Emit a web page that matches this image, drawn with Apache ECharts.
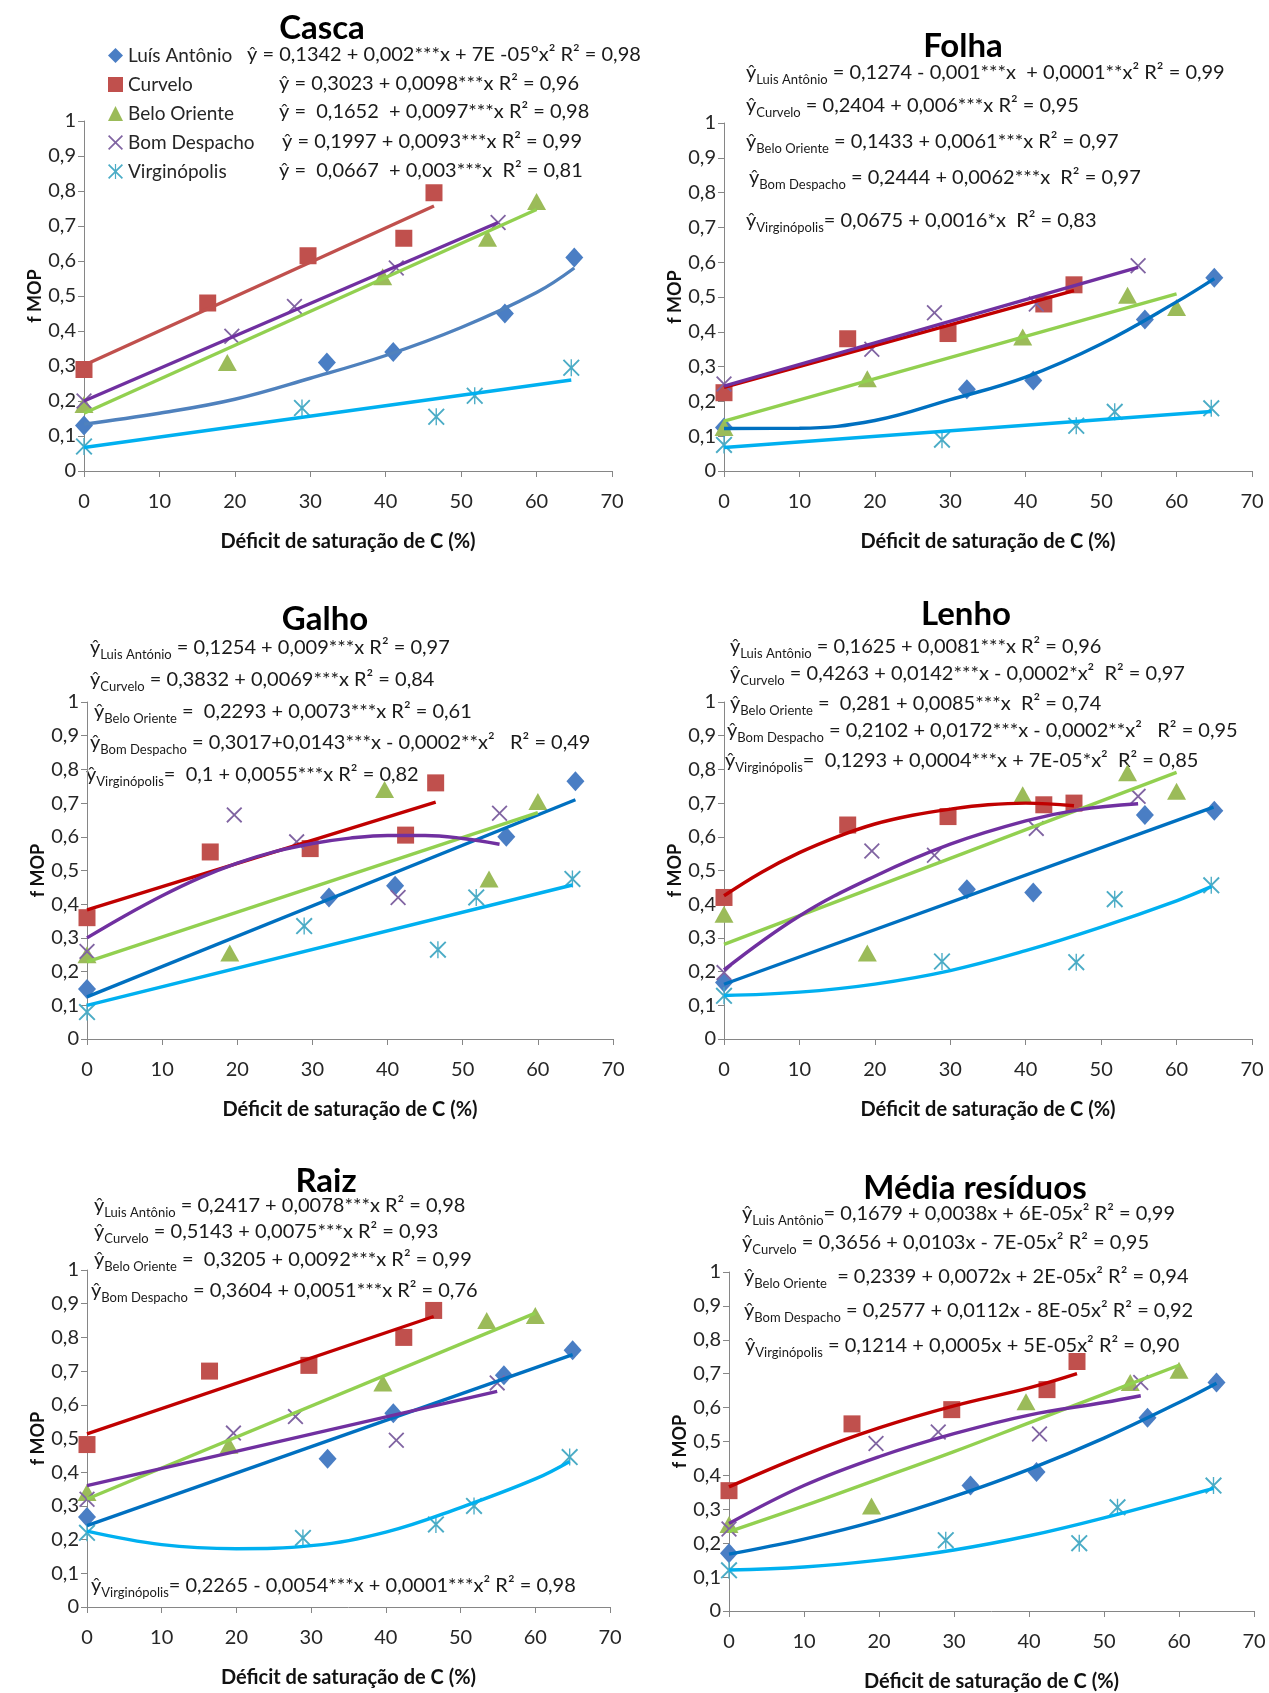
<!DOCTYPE html>
<html>
<head>
<meta charset="utf-8">
<script src="https://cdn.jsdelivr.net/npm/echarts/dist/echarts.min.js"></script>
<style>
  html, body { margin: 0; padding: 0; background: #ffffff; }
  #chart { width: 1269px; height: 1693px; }
</style>
</head>
<body>
<div id="chart"></div>
<script>
// ---------------------------------------------------------------------------
// Sites and their carbon saturation deficit (x, %)
// ---------------------------------------------------------------------------
const sites = ['Luís Antônio', 'Curvelo', 'Belo Oriente', 'Bom Despacho', 'Virginópolis'];
const xLuis     = [0, 32.2, 41, 55.8, 65];
const xCurvelo  = [0, 16.4, 29.7, 42.4, 46.4];
const xBelo     = [0, 19, 39.6, 53.5, 60];
const xBom      = [0, 19.6, 27.9, 41.4, 54.9];
const xVirg     = [0, 28.9, 46.7, 51.8, 64.6];

const xTicks = [0, 10, 20, 30, 40, 50, 60, 70];
const yTicks = [0, 0.1, 0.2, 0.3, 0.4, 0.5, 0.6, 0.7, 0.8, 0.9, 1];

// ---------------------------------------------------------------------------
// f MOP observed per residue compartment
// ---------------------------------------------------------------------------
// Casca
const cascaLuis    = [0.13, 0.31, 0.34, 0.45, 0.61];
const cascaCurvelo = [0.29, 0.48, 0.615, 0.665, 0.795];
const cascaBelo    = [0.19, 0.31, 0.555, 0.665, 0.77];
const cascaBom     = [0.20, 0.385, 0.47, 0.58, 0.71];
const cascaVirg    = [0.07, 0.18, 0.155, 0.215, 0.295];
// Folha
const folhaLuis    = [0.125, 0.235, 0.26, 0.435, 0.555];
const folhaCurvelo = [0.225, 0.38, 0.395, 0.48, 0.535];
const folhaBelo    = [0.125, 0.265, 0.385, 0.505, 0.47];
const folhaBom     = [0.25, 0.35, 0.455, 0.48, 0.59];
const folhaVirg    = [0.075, 0.09, 0.13, 0.17, 0.18];
// Galho
const galhoLuis    = [0.148, 0.42, 0.455, 0.60, 0.765];
const galhoCurvelo = [0.36, 0.555, 0.565, 0.605, 0.76];
const galhoBelo    = [0.25, 0.255, 0.74, 0.475, 0.705];
const galhoBom     = [0.26, 0.665, 0.585, 0.42, 0.67];
const galhoVirg    = [0.08, 0.335, 0.265, 0.42, 0.475];
// Lenho
const lenhoLuis    = [0.168, 0.444, 0.435, 0.665, 0.677];
const lenhoCurvelo = [0.42, 0.635, 0.66, 0.695, 0.70];
const lenhoBelo    = [0.37, 0.255, 0.725, 0.79, 0.735];
const lenhoBom     = [0.197, 0.558, 0.545, 0.625, 0.72];
const lenhoVirg    = [0.128, 0.23, 0.228, 0.415, 0.456];
// Raiz
const raizLuis     = [0.267, 0.44, 0.575, 0.688, 0.762];
const raizCurvelo  = [0.482, 0.70, 0.717, 0.80, 0.88];
const raizBelo     = [0.34, 0.48, 0.665, 0.85, 0.865];
const raizBom      = [0.32, 0.516, 0.565, 0.495, 0.665];
const raizVirg     = [0.22, 0.205, 0.245, 0.30, 0.445];
// Média resíduos
const mediaLuis    = [0.17, 0.37, 0.41, 0.57, 0.674];
const mediaCurvelo = [0.355, 0.552, 0.594, 0.653, 0.736];
const mediaBelo    = [0.255, 0.31, 0.617, 0.674, 0.71];
const mediaBom     = [0.242, 0.494, 0.528, 0.522, 0.674];
const mediaVirg    = [0.12, 0.209, 0.20, 0.306, 0.37];

// ---------------------------------------------------------------------------
// Fitted regression curves, [x, ŷ]
// ---------------------------------------------------------------------------
const cascaFitLuis    = [[0, 0.134], [10, 0.165], [20, 0.205], [30, 0.265], [40, 0.33], [50, 0.41], [60, 0.51], [65, 0.58]];
const cascaFitCurvelo = [[0, 0.302], [46.4, 0.757]];
const cascaFitBelo    = [[0, 0.165], [60, 0.747]];
const cascaFitBom     = [[0, 0.20], [54.9, 0.71]];
const cascaFitVirg    = [[0, 0.067], [64.6, 0.26]];

const folhaFitLuis    = [[0, 0.122], [10, 0.123], [20, 0.145], [30, 0.205], [40, 0.27], [50, 0.365], [60, 0.486], [65, 0.553]];
const folhaFitCurvelo = [[0, 0.24], [46.4, 0.518]];
const folhaFitBelo    = [[0, 0.143], [60, 0.509]];
const folhaFitBom     = [[0, 0.244], [54.9, 0.585]];
const folhaFitVirg    = [[0, 0.0675], [64.6, 0.171]];

const galhoFitLuis    = [[0, 0.125], [65, 0.71]];
const galhoFitCurvelo = [[0, 0.383], [46.4, 0.703]];
const galhoFitBelo    = [[0, 0.229], [60, 0.672]];
const galhoFitBom     = [[0, 0.30], [5, 0.365], [10, 0.425], [15, 0.478], [20, 0.522], [25, 0.556], [30, 0.58], [35, 0.596], [40, 0.604], [45, 0.604], [50, 0.595], [54.9, 0.578]];
const galhoFitVirg    = [[0, 0.10], [64.6, 0.457]];

const lenhoFitLuis    = [[0, 0.1625], [64.9, 0.688]];
const lenhoFitCurvelo = [[0, 0.425], [5, 0.495], [10, 0.553], [15, 0.60], [20, 0.638], [25, 0.664], [30, 0.682], [35, 0.695], [40, 0.70], [46.4, 0.692]];
const lenhoFitBelo    = [[0, 0.281], [60, 0.791]];
const lenhoFitBom     = [[0, 0.205], [10, 0.365], [20, 0.483], [30, 0.578], [40, 0.647], [47, 0.68], [54.9, 0.698]];
const lenhoFitVirg    = [[0, 0.129], [10, 0.139], [20, 0.163], [30, 0.203], [40, 0.262], [50, 0.332], [60, 0.41], [64.6, 0.452]];

const raizFitLuis     = [[0, 0.2417], [65, 0.749]];
const raizFitCurvelo  = [[0, 0.514], [46.4, 0.862]];
const raizFitBelo     = [[0, 0.3205], [60, 0.872]];
const raizFitBom      = [[0, 0.3604], [54.9, 0.64]];
const raizFitVirg     = [[0, 0.225], [10, 0.185], [20, 0.173], [30, 0.182], [40, 0.222], [50, 0.295], [60, 0.38], [64.6, 0.432]];

const mediaFitLuis    = [[0, 0.168], [10, 0.212], [20, 0.268], [30, 0.338], [40, 0.418], [50, 0.51], [60, 0.615], [65, 0.672]];
const mediaFitCurvelo = [[0, 0.366], [10, 0.46], [20, 0.54], [30, 0.605], [40, 0.658], [46.4, 0.70]];
const mediaFitBelo    = [[0, 0.234], [10, 0.31], [20, 0.39], [30, 0.47], [40, 0.555], [50, 0.64], [60, 0.725]];
const mediaFitBom     = [[0, 0.258], [10, 0.37], [20, 0.455], [30, 0.523], [40, 0.578], [50, 0.615], [54.9, 0.635]];
const mediaFitVirg    = [[0, 0.121], [10, 0.13], [20, 0.15], [30, 0.18], [40, 0.222], [50, 0.275], [64.6, 0.362]];

// ---------------------------------------------------------------------------
// Regression equations: [subscript, rest of the line]
// ---------------------------------------------------------------------------
const cascaEquations = [
  ['', 'ŷ = 0,1342 + 0,002***x + 7E -05ºx² R² = 0,98'],
  ['', 'ŷ = 0,3023 + 0,0098***x R² = 0,96'],
  ['', 'ŷ =  0,1652  + 0,0097***x R² = 0,98'],
  ['', 'ŷ = 0,1997 + 0,0093***x R² = 0,99'],
  ['', 'ŷ =  0,0667  + 0,003***x  R² = 0,81']
];
const folhaEquations = [
  ['Luis Antônio', ' = 0,1274 - 0,001***x  + 0,0001**x² R² = 0,99'],
  ['Curvelo', ' = 0,2404 + 0,006***x R² = 0,95'],
  ['Belo Oriente', ' = 0,1433 + 0,0061***x R² = 0,97'],
  ['Bom Despacho', ' = 0,2444 + 0,0062***x  R² = 0,97'],
  ['Virginópolis', '= 0,0675 + 0,0016*x  R² = 0,83']
];
const galhoEquations = [
  ['Luis António', ' = 0,1254 + 0,009***x R² = 0,97'],
  ['Curvelo', ' = 0,3832 + 0,0069***x R² = 0,84'],
  ['Belo Oriente', ' =  0,2293 + 0,0073***x R² = 0,61'],
  ['Bom Despacho', ' = 0,3017+0,0143***x - 0,0002**x²   R² = 0,49'],
  ['Virginópolis', '=  0,1 + 0,0055***x R² = 0,82']
];
const lenhoEquations = [
  ['Luis Antônio', ' = 0,1625 + 0,0081***x R² = 0,96'],
  ['Curvelo', ' = 0,4263 + 0,0142***x - 0,0002*x²  R² = 0,97'],
  ['Belo Oriente', ' =  0,281 + 0,0085***x  R² = 0,74'],
  ['Bom Despacho', ' = 0,2102 + 0,0172***x - 0,0002**x²   R² = 0,95'],
  ['Virginópolis', '=  0,1293 + 0,0004***x + 7E-05*x²  R² = 0,85']
];
const raizEquations = [
  ['Luis Antônio', ' = 0,2417 + 0,0078***x R² = 0,98'],
  ['Curvelo', ' = 0,5143 + 0,0075***x R² = 0,93'],
  ['Belo Oriente', ' =  0,3205 + 0,0092***x R² = 0,99'],
  ['Bom Despacho', ' = 0,3604 + 0,0051***x R² = 0,76'],
  ['Virginópolis', '= 0,2265 - 0,0054***x + 0,0001***x² R² = 0,98']
];
const mediaEquations = [
  ['Luis Antônio', '= 0,1679 + 0,0038x + 6E-05x² R² = 0,99'],
  ['Curvelo', ' = 0,3656 + 0,0103x - 7E-05x² R² = 0,95'],
  ['Belo Oriente', '  = 0,2339 + 0,0072x + 2E-05x² R² = 0,94'],
  ['Bom Despacho', ' = 0,2577 + 0,0112x - 8E-05x² R² = 0,92'],
  ['Virginópolis', ' = 0,1214 + 0,0005x + 5E-05x² R² = 0,90']
];

// ---------------------------------------------------------------------------
// Panel layout
// ---------------------------------------------------------------------------
const FONT = 'Lato, "Open Sans", sans-serif';
const panels = [
  { title: 'Casca', titleX: 322, titleY: 28,
    grid: { left: 84, top: 121, width: 528, height: 350 },
    ys: [cascaLuis, cascaCurvelo, cascaBelo, cascaBom, cascaVirg],
    fits: [cascaFitLuis, cascaFitCurvelo, cascaFitBelo, cascaFitBom, cascaFitVirg],
    eqs: cascaEquations, eqX: [247, 279, 279, 282, 279], eqY: [55, 84, 112, 142, 171],
    lineColors: ['#4F81BD', '#C0504D', '#92D050', '#7030A0', '#00B0F0'] },
  { title: 'Folha', titleX: 963, titleY: 46,
    grid: { left: 724, top: 123, width: 528, height: 348 },
    ys: [folhaLuis, folhaCurvelo, folhaBelo, folhaBom, folhaVirg],
    fits: [folhaFitLuis, folhaFitCurvelo, folhaFitBelo, folhaFitBom, folhaFitVirg],
    eqs: folhaEquations, eqX: [746, 746, 746, 749, 746], eqY: [73, 106, 142, 178, 221],
    lineColors: ['#0070C0', '#C00000', '#92D050', '#7030A0', '#00B0F0'] },
  { title: 'Galho', titleX: 325, titleY: 619,
    grid: { left: 87, top: 702, width: 526, height: 337 },
    ys: [galhoLuis, galhoCurvelo, galhoBelo, galhoBom, galhoVirg],
    fits: [galhoFitLuis, galhoFitCurvelo, galhoFitBelo, galhoFitBom, galhoFitVirg],
    eqs: galhoEquations, eqX: [90, 90, 94, 90, 86], eqY: [648, 680, 712, 743, 775],
    lineColors: ['#0070C0', '#C00000', '#92D050', '#7030A0', '#00B0F0'] },
  { title: 'Lenho', titleX: 966, titleY: 614,
    grid: { left: 724, top: 702, width: 528, height: 337 },
    ys: [lenhoLuis, lenhoCurvelo, lenhoBelo, lenhoBom, lenhoVirg],
    fits: [lenhoFitLuis, lenhoFitCurvelo, lenhoFitBelo, lenhoFitBom, lenhoFitVirg],
    eqs: lenhoEquations, eqX: [730, 730, 730, 727, 725], eqY: [647, 674, 704, 731, 761],
    lineColors: ['#0070C0', '#C00000', '#92D050', '#7030A0', '#00B0F0'] },
  { title: 'Raiz', titleX: 326, titleY: 1181,
    grid: { left: 87, top: 1270, width: 523, height: 337 },
    ys: [raizLuis, raizCurvelo, raizBelo, raizBom, raizVirg],
    fits: [raizFitLuis, raizFitCurvelo, raizFitBelo, raizFitBom, raizFitVirg],
    eqs: raizEquations, eqX: [94, 94, 94, 91, 91], eqY: [1206, 1232, 1260, 1291, 1586],
    lineColors: ['#0070C0', '#C00000', '#92D050', '#7030A0', '#00B0F0'] },
  { title: 'Média resíduos', titleX: 975, titleY: 1188,
    grid: { left: 729, top: 1272, width: 525, height: 345 },
    ys: [mediaLuis, mediaCurvelo, mediaBelo, mediaBom, mediaVirg],
    fits: [mediaFitLuis, mediaFitCurvelo, mediaFitBelo, mediaFitBom, mediaFitVirg],
    eqs: mediaEquations, eqX: [742, 742, 744, 744, 745], eqY: [1214, 1243, 1277, 1311, 1346],
    lineColors: ['#0070C0', '#C00000', '#92D050', '#7030A0', '#00B0F0'] }
];

const siteX = [xLuis, xCurvelo, xBelo, xBom, xVirg];

// Marker shapes: diamond, square, triangle, cross, asterisk
const CROSS = 'M1.6,0L10,8.4L18.4,0L20,1.6L11.6,10L20,18.4L18.4,20L10,11.6L1.6,20L0,18.4L8.4,10L0,1.6Z';
const STAR = CROSS + 'M9.2,0L10.8,0L10.8,20L9.2,20Z';
const markerSymbols = ['diamond', 'rect', 'triangle', 'path://' + CROSS, 'path://' + STAR];
const markerSizes = [[18, 20], 17, [19, 17], 16, 17];
const markerColors = ['#4A7EC4', '#C0504D', '#9BBB59', '#8064A2', '#4BACC6'];

const axisGray = '#868686';
const labelColor = '#262626';
const fmt = v => String(Math.round(v * 10) / 10).replace('.', ',');

const grids = [], xAxes = [], yAxes = [], series = [], graphics = [];

panels.forEach((p, i) => {
  grids.push(Object.assign({ containLabel: false }, p.grid));
  xAxes.push({
    type: 'value', gridIndex: i, min: xTicks[0], max: xTicks[xTicks.length - 1], interval: 10,
    name: 'Déficit de saturação de C (%)', nameLocation: 'middle', nameGap: 61,
    nameTextStyle: { fontFamily: FONT, fontWeight: 'bold', fontSize: 20, color: '#111' },
    axisLine: { lineStyle: { color: axisGray, width: 1 } },
    axisTick: { show: true, length: 6, lineStyle: { color: axisGray } },
    axisLabel: { fontFamily: FONT, fontSize: 20, color: labelColor, margin: 21 },
    splitLine: { show: false }
  });
  yAxes.push({
    type: 'value', gridIndex: i, min: yTicks[0], max: yTicks[yTicks.length - 1], interval: 0.1,
    name: 'f MOP', nameLocation: 'middle', nameGap: 39, nameRotate: 90,
    nameTextStyle: { fontFamily: FONT, fontWeight: 'bold', fontSize: 18, color: '#111' },
    axisLine: { show: true, lineStyle: { color: axisGray, width: 1 } },
    axisTick: { show: true, length: 6, lineStyle: { color: axisGray } },
    axisLabel: { fontFamily: FONT, fontSize: 20, color: labelColor, margin: 8, formatter: fmt },
    splitLine: { show: false }
  });

  sites.forEach((name, j) => {
    series.push({
      type: 'scatter', name: name, xAxisIndex: i, yAxisIndex: i,
      data: siteX[j].map((x, k) => [x, p.ys[j][k]]),
      symbol: markerSymbols[j], symbolSize: markerSizes[j],
      itemStyle: { color: markerColors[j], opacity: 1 },
      z: 2
    });
  });
  sites.forEach((name, j) => {
    series.push({
      type: 'line', name: name + ' (ajuste)', xAxisIndex: i, yAxisIndex: i,
      data: p.fits[j], symbol: 'none', showSymbol: false,
      smooth: p.fits[j].length > 2 ? 0.4 : false,
      lineStyle: { color: p.lineColors[j], width: 3.4 },
      z: 3
    });
  });

  graphics.push({
    type: 'text', x: p.titleX, y: p.titleY,
    style: { text: p.title, font: 'bold 33px ' + FONT, fill: '#000',
      align: 'center', verticalAlign: 'middle', textAlign: 'center', textVerticalAlign: 'middle' }
  });

  p.eqs.forEach((eq, k) => {
    const text = eq[0] ? '{m|ŷ}{s|' + eq[0] + '}{m|' + eq[1] + '}' : '{m|' + eq[1] + '}';
    graphics.push({
      type: 'text', x: p.eqX[k], y: p.eqY[k],
      style: {
        text: text,
        align: 'left', verticalAlign: 'middle', textAlign: 'left', textVerticalAlign: 'middle',
        fill: '#1a1a1a',
        rich: {
          m: { fontFamily: FONT, fontSize: 20, lineHeight: 26, verticalAlign: 'middle', fill: '#1a1a1a' },
          s: { fontFamily: FONT, fontSize: 13, lineHeight: 15, verticalAlign: 'bottom', fill: '#1a1a1a' }
        }
      }
    });
  });
});

const chart = echarts.init(document.getElementById('chart'), null, { renderer: 'canvas' });
chart.setOption({
  backgroundColor: '#ffffff',
  animation: false,
  legend: {
    data: sites, orient: 'vertical', left: 103, top: 41,
    itemWidth: 15, itemHeight: 15, itemGap: 10,
    textStyle: { fontFamily: FONT, fontSize: 19, color: '#262626' }
  },
  grid: grids,
  xAxis: xAxes,
  yAxis: yAxes,
  series: series,
  graphic: graphics
});
</script>
</body>
</html>
